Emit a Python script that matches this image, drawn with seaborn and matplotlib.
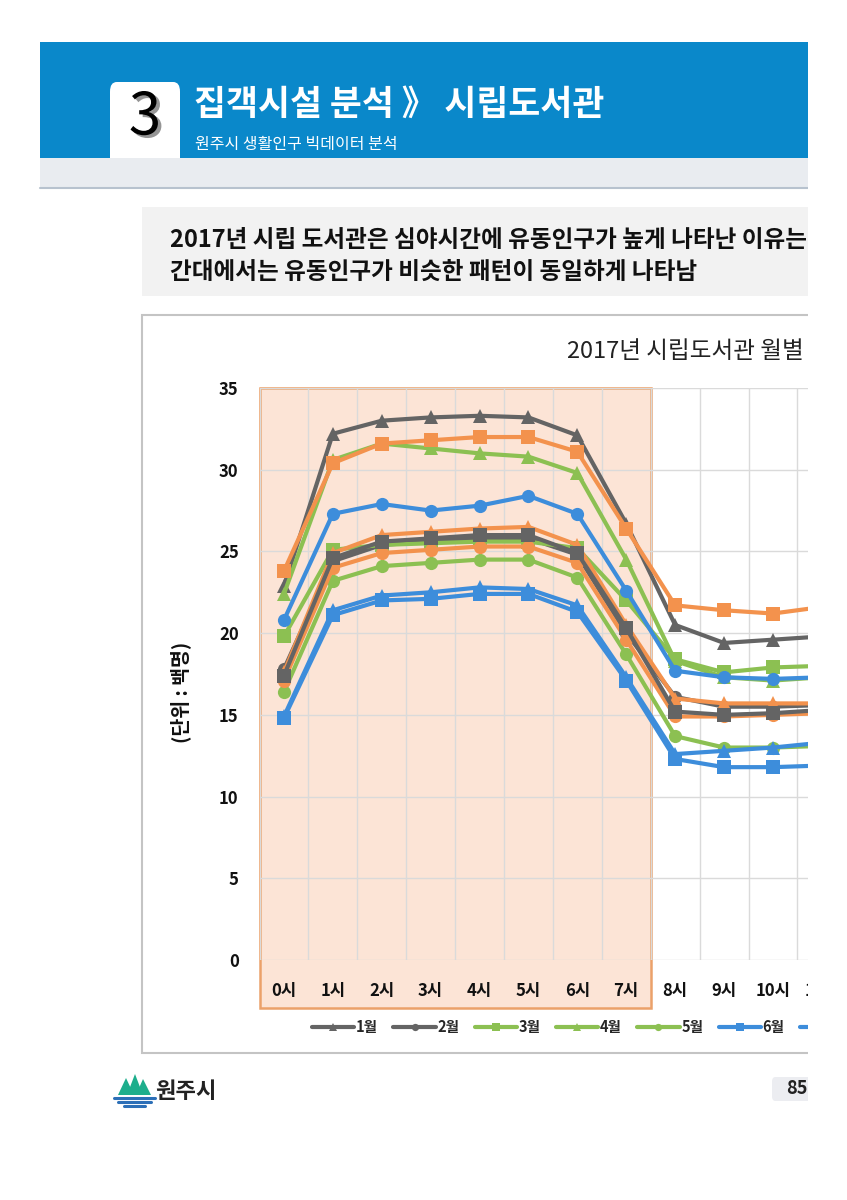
import numpy as np
import pandas as pd
import matplotlib
matplotlib.use("Agg")
import matplotlib.pyplot as plt
import matplotlib.patheffects as pe
from matplotlib.patches import Rectangle, FancyBboxPatch, Polygon
from matplotlib.transforms import blended_transform_factory
import seaborn as sns

# ---------------- data ----------------
hours = ["0시", "1시", "2시", "3시", "4시", "5시", "6시", "7시", "8시", "9시", "10시", "11시"]
months = ["1월", "2월", "3월", "4월", "5월", "6월", "7월", "8월", "9월", "10월", "11월", "12월"]

jan = [22.9, 32.2, 33.0, 33.2, 33.3, 33.2, 32.1, 26.7, 20.5, 19.4, 19.6, 19.8]
feb = [17.8, 24.4, 25.4, 25.6, 25.8, 25.8, 24.8, 20.0, 16.1, 15.5, 15.5, 15.6]
mar = [19.8, 25.1, 25.4, 25.5, 25.6, 25.6, 25.2, 22.0, 18.4, 17.6, 17.9, 18.0]
apr = [22.4, 30.6, 31.6, 31.3, 31.0, 30.8, 29.8, 24.5, 18.3, 17.3, 17.1, 17.3]
may = [16.4, 23.2, 24.1, 24.3, 24.5, 24.5, 23.4, 18.7, 13.7, 13.0, 13.0, 13.1]
jun = [14.8, 21.1, 22.0, 22.1, 22.4, 22.4, 21.3, 17.1, 12.3, 11.8, 11.8, 11.9]
jul = [14.9, 21.4, 22.3, 22.5, 22.8, 22.7, 21.7, 17.3, 12.6, 12.8, 13.0, 13.3]
aug = [20.8, 27.3, 27.9, 27.5, 27.8, 28.4, 27.3, 22.6, 17.7, 17.3, 17.2, 17.3]
sep = [23.8, 30.4, 31.6, 31.8, 32.0, 32.0, 31.1, 26.4, 21.7, 21.4, 21.2, 21.6]
oct_ = [17.6, 24.9, 26.0, 26.2, 26.4, 26.5, 25.4, 20.5, 16.0, 15.7, 15.7, 15.7]
nov = [17.1, 24.0, 24.9, 25.1, 25.3, 25.3, 24.3, 19.6, 14.9, 14.9, 15.0, 15.1]
dec = [17.4, 24.6, 25.6, 25.8, 26.0, 26.0, 24.9, 20.3, 15.2, 15.0, 15.1, 15.3]
series = [jan, feb, mar, apr, may, jun, jul, aug, sep, oct_, nov, dec]

yticks = [0, 5, 10, 15, 20, 25, 30, 35]
n_legend_shown = 6   # legend entries visible on the (cropped) page

# ---------------- style ----------------
GRAY, GREEN, BLUE, ORANGE = "#646464", "#8CC052", "#3D8DDB", "#F3924D"
colors = [GRAY, GRAY, GREEN, GREEN, GREEN, BLUE, BLUE, BLUE, ORANGE, ORANGE, ORANGE, GRAY]
mk = ["^", "o", "s"]
markers = {m: mk[i % 3] for i, m in enumerate(months)}
palette = {m: c for m, c in zip(months, colors)}

sns.set_theme(style="white")
plt.rcParams["font.family"] = ["Noto Sans CJK KR", "DejaVu Sans"]

W, H = 847, 1200
fig = plt.figure(figsize=(W / 100, H / 100), dpi=100)
fig.patch.set_facecolor("white")


def fx(x):
    return x / W


def fy(y):
    return 1 - y / H


def frect(x0, y0, x1, y1, **kw):
    r = Rectangle((fx(x0), fy(y1)), fx(x1 - x0), (y1 - y0) / H,
                  transform=fig.transFigure, **kw)
    fig.patches.append(r)
    return r


# ---------------- page header ----------------
frect(40, 42, 808, 158, facecolor="#0A88CA", edgecolor="none", zorder=1)
frect(40, 158, 808, 188, facecolor="#E9ECF0", edgecolor="none", zorder=1)
fig.add_artist(plt.Line2D([fx(40), fx(808)], [fy(188), fy(188)], color="#B7C2CE", lw=1.5, zorder=2))
tab = FancyBboxPatch((fx(110), fy(158)), fx(70), 76 / H, boxstyle="round,pad=0,rounding_size=0.008",
                     transform=fig.transFigure, facecolor="white", edgecolor="none", zorder=2)
fig.patches.append(tab)
frect(110, 140, 180, 158, facecolor="white", edgecolor="none", zorder=2)
fig.text(fx(145), fy(118), "3", fontsize=42, color="black", ha="center", va="center", zorder=3,
         path_effects=[pe.SimplePatchShadow(offset=(2.5, -2), shadow_rgbFace="#8A8A8A", alpha=0.9), pe.Normal()])
fig.text(fx(194), fy(104), "집객시설 분석 》 시립도서관", fontsize=25, color="white",
         ha="left", va="center", fontweight="bold", zorder=3)
fig.text(fx(195), fy(144), "원주시 생활인구 빅데이터 분석", fontsize=11.5, color="white",
         ha="left", va="center", zorder=3)

# ---------------- summary box ----------------
frect(142, 207, 808, 296, facecolor="#F2F2F2", edgecolor="none", zorder=1)
fig.text(fx(170), fy(240), "2017년 시립 도서관은 심야시간에 유동인구가 높게 나타난 이유는",
         fontsize=17, fontweight="bold", color="#111111", ha="left", va="center", zorder=3)
fig.text(fx(170), fy(272), "간대에서는 유동인구가 비슷한 패턴이 동일하게 나타남",
         fontsize=17, fontweight="bold", color="#111111", ha="left", va="center", zorder=3)

# ---------------- chart frame ----------------
frect(142, 315, 900, 1053, facecolor="white", edgecolor="#C4C4C4", lw=1.5, zorder=-1)
fig.text(fx(567), fy(352), "2017년 시립도서관 월별", fontsize=17, color="#222222",
         ha="left", va="center", zorder=3)
fig.text(fx(181), fy(692), "(단위 : 백명)", fontsize=14, fontweight="bold", rotation=90,
         ha="center", va="center", color="#111111", zorder=3)

# ---------------- axes ----------------
ax_left, ax_right, ax_top, ax_bot = 259.5, 847, 388, 960
ax = fig.add_axes([fx(ax_left), fy(ax_bot), fx(ax_right - ax_left), (ax_bot - ax_top) / H])
ax.set_zorder(1)
ax.set_facecolor("none")
step = 48.9
ax.set_xlim(-0.5, -0.5 + (ax_right - ax_left) / step)
ax.set_ylim(0, 35)

df = pd.DataFrame({
    "hour": np.tile(np.arange(len(hours)), len(months)),
    "value": np.concatenate([np.array(s) for s in series]),
    "month": np.repeat(months, len(hours)),
})

sns.lineplot(data=df, x="hour", y="value", hue="month", style="month",
             hue_order=months, style_order=months, palette=palette, markers=markers,
             dashes=False, lw=3.0, markersize=9.5, markeredgewidth=0, ax=ax, zorder=3)

ax.set_axisbelow(True)
ax.set_xticks(range(len(hours)))
ax.set_xticklabels(hours)
ax.set_xticks(np.arange(-0.5, len(hours), 1), minor=True)
ax.set_yticks(yticks)
ax.set_yticklabels([str(v) for v in yticks])
ax.grid(False)
ax.grid(which="major", axis="y", color="#DADADA", lw=1.0)
ax.grid(which="minor", axis="x", color="#DADADA", lw=1.0)
ax.tick_params(which="both", length=0)
ax.tick_params(axis="x", pad=16, labelsize=12)
ax.tick_params(axis="y", pad=15, labelsize=12)
for lab in ax.get_xticklabels() + ax.get_yticklabels():
    lab.set_fontweight("bold")
    lab.set_color("#111111")
for s in ax.spines.values():
    s.set_visible(False)
ax.set_xlabel("")
ax.set_ylabel("")

# highlighted late-night band (0시 ~ 7시)
tr = blended_transform_factory(ax.transData, ax.transAxes)
ext = 48 / (ax_bot - ax_top)
hl = Rectangle((-0.5, -ext), 8, 1 + ext, transform=tr, facecolor="#FCE4D6",
               edgecolor="#EBA16A", lw=1.8, clip_on=False, zorder=0.2)
ax.add_patch(hl)

# legend (page is cropped: months beyond 6월 fall outside)
handles, labels = ax.get_legend_handles_labels()
ax.get_legend().remove()
shown_h = handles[:n_legend_shown + 1]
shown_l = labels[:n_legend_shown] + [""]
leg = fig.legend(shown_h, shown_l, loc="center left", bbox_to_anchor=(fx(312), fy(1027)),
                 ncol=n_legend_shown + 1, frameon=False, handlelength=2.9, handletextpad=0.12,
                 columnspacing=1.05, borderpad=0, borderaxespad=0, markerscale=0.55,
                 prop={"weight": "bold", "size": 10.5})
leg.set_zorder(5)
for line in leg.get_lines():
    line.set_linewidth(3.0)

# ---------------- footer ----------------
for (xa, xb, xc, top) in [(118, 126, 134, 1078), (127, 135, 143, 1074), (136, 143, 151, 1079)]:
    fig.patches.append(Polygon([(fx(xa), fy(1095)), (fx(xb), fy(top)), (fx(xc), fy(1095))],
                               closed=True, transform=fig.transFigure, facecolor="#1DAE8C",
                               edgecolor="none", zorder=3))
for (y, x0, x1) in [(1098, 114, 155), (1102, 118, 151), (1106, 124, 145)]:
    fig.add_artist(plt.Line2D([fx(x0), fx(x1)], [fy(y), fy(y)], color="#2C6FB7", lw=2.2, zorder=3))
fig.text(fx(155), fy(1092), "원주시", fontsize=16, fontweight="bold", color="#222222",
         ha="left", va="center", zorder=3)

nb = FancyBboxPatch((fx(772), fy(1101)), fx(60), 24 / H, boxstyle="round,pad=0,rounding_size=0.004",
                    transform=fig.transFigure, facecolor="#ECEDF1", edgecolor="none", zorder=2)
fig.patches.append(nb)
fig.text(fx(786), fy(1089), "85", fontsize=13, fontweight="bold", color="#222222",
         ha="left", va="center", zorder=3)

# page crop on the right
frect(808, 0, 860, 1200, facecolor="white", edgecolor="none", zorder=100)

fig.savefig("out.png", dpi=100, facecolor="white")
